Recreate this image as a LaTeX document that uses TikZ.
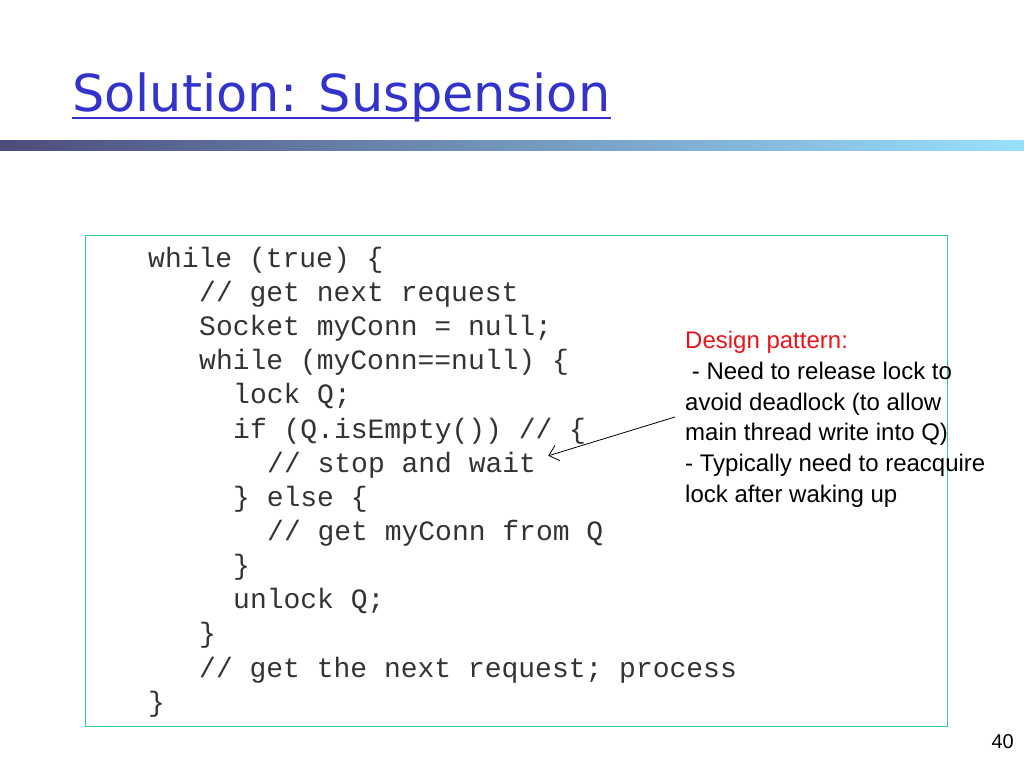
\documentclass[tikz,border=0pt]{standalone}
\usepackage{fontspec}
\setmainfont{Liberation Sans}
\setmonofont{Liberation Mono}
\newfontfamily\titlefont{DejaVu Sans}
\usetikzlibrary{positioning, calc, arrows.meta}
\definecolor{titleblue}{HTML}{3333CC}
\definecolor{boxgreen}{HTML}{30C898}
\definecolor{notered}{HTML}{E8141C}

\begin{document}
\begin{tikzpicture}[x=1pt, y=-1pt]
  \tikzset{codeline/.style={anchor=base west, inner sep=0pt, font=\ttfamily\fontsize{28}{34}\selectfont, text=black!80}}
  \tikzset{noteline/.style={anchor=base west, inner sep=0pt, font=\fontsize{24}{31}\selectfont}}
  \tikzset{ptr/.style={line width=0.8pt, -{Straight Barb[length=9pt, width=16pt]}}}
  \useasboundingbox (0, 0) rectangle (1024, 768);

  % code box
  \draw[draw=boxgreen, line width=1pt] (85, 235) -- (947, 235) -- (947, 726) -- (85, 726) -- cycle;

  % title and bar
  \node[anchor=base west, inner sep=0pt, text=titleblue, font=\titlefont\fontsize{51}{54}\selectfont] (title) at (72, 111) {Solution: Suspension};
  \draw[titleblue, line width=2pt] (title.base west) ++(0, 7) coordinate (ul) -- (ul -| title.east);
  \begin{scope}
    \shade[left color=black!55!blue!40!gray, right color=blue!30!cyan!40] (0, 140) rectangle (1024, 150);
  \end{scope}

  \node[codeline] (c1) at (148, 267) {while (true) \{};
  \node[codeline] (c2) at (199, 301) {// get next request};
  \node[codeline] (c3) at (199, 335) {Socket myConn = null;};
  \node[codeline] (c4) at (199, 369) {while (myConn==null) \{};
  \node[codeline] (c5) at (233, 403) {lock Q;};
  \node[codeline] (c6) at (233, 438) {if (Q.isEmpty()) // \{};
  \node[codeline] (c7) at (267, 472) {// stop and wait};
  \node[codeline] (c8) at (233, 506) {\} else \{};
  \node[codeline] (c9) at (267, 540) {// get myConn from Q};
  \node[codeline] (c10) at (233, 574) {\}};
  \node[codeline] (c11) at (233, 608) {unlock Q;};
  \node[codeline] (c12) at (199, 642) {\}};
  \node[codeline] (c13) at (199, 677) {// get the next request; process};
  \node[codeline] (c14) at (148, 711) {\}};

  % note
  \node[noteline, text=notered] (n1) at (685, 348) {Design pattern:};
  \node[noteline] (n2) at (685, 379) {\ - Need to release lock to};
  \node[noteline] (n3) at (685, 410) {avoid deadlock (to allow};
  \node[noteline] (n4) at (685, 440) {main thread write into Q)};
  \node[noteline] (n5) at (685, 471) {- Typically need to reacquire};
  \node[noteline] (n6) at (685, 502) {lock after waking up};
  \coordinate (from) at (675, 417);
  \draw[ptr] (from) -- ($(c7.east)+(12, -9)$);

  \node[anchor=base east, inner sep=0pt, font=\fontsize{20}{22}\selectfont] (page) at (1014, 748) {40};
\end{tikzpicture}
\end{document}
